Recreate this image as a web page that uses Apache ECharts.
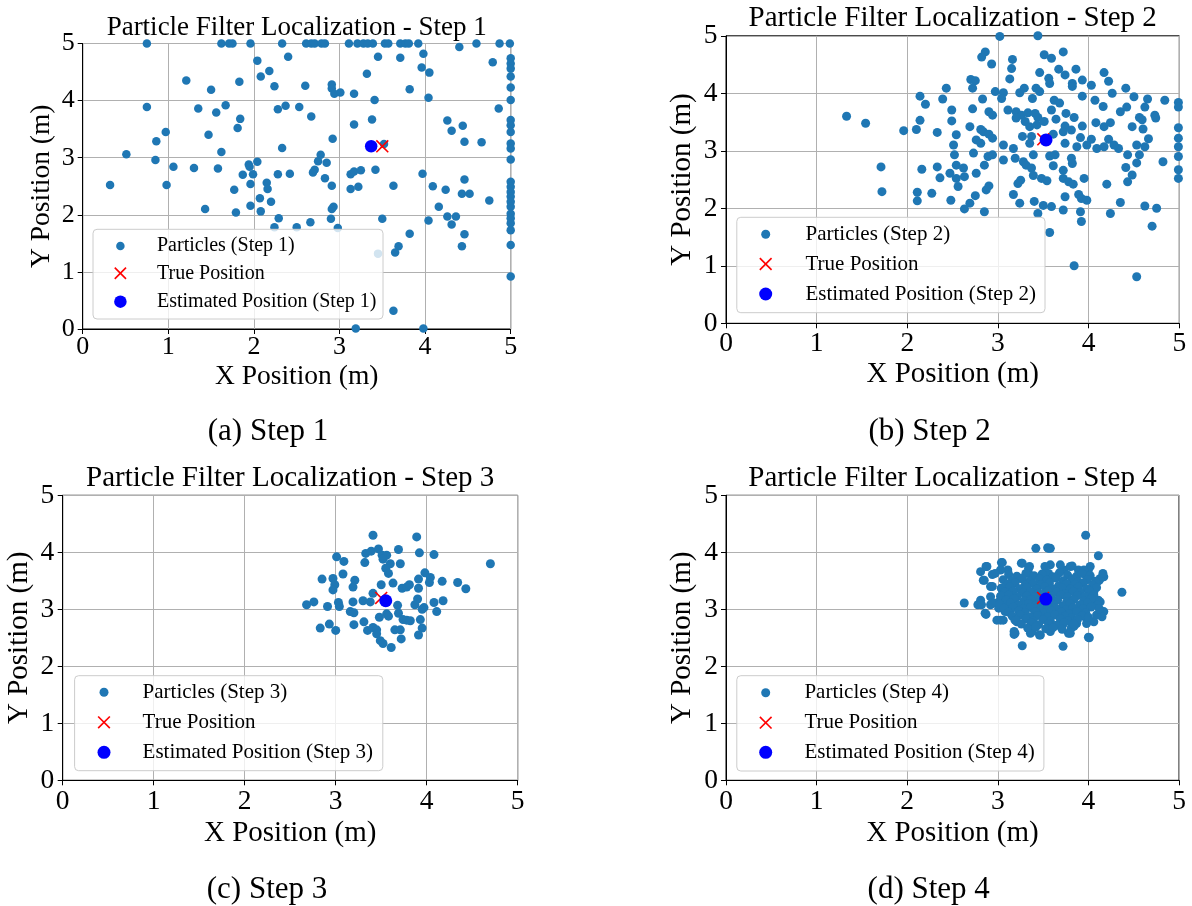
<!DOCTYPE html>
<html>
<head>
<meta charset="utf-8">
<title>Particle Filter Localization</title>
<script src="https://cdn.jsdelivr.net/npm/echarts@6/dist/echarts.min.js"></script>
<style>
  html, body { margin: 0; padding: 0; background: #fff; }
  #chart { width: 1192px; height: 906px; }
</style>
</head>
<body>
<div id="chart"></div>
<script>
const FONT = "'Liberation Serif', 'Times New Roman', 'DejaVu Serif', serif";

// data (metres)
const axisTicks = [0, 1, 2, 3, 4, 5];
const stepNames = ['1', '2', '3', '4'];
const captions = ['(a) Step 1', '(b) Step 2', '(c) Step 3', '(d) Step 4'];
const truePosition = [3.5, 3.2];
const estimated = [[3.37, 3.20], [3.53, 3.19], [3.55, 3.15], [3.53, 3.18]];

const particles1 = [
  // clipped to the top edge
  [0.75, 5], [1.62, 5], [1.71, 5], [1.75, 5], [1.96, 5], [2.33, 5], [2.61, 5], [2.67, 5], [2.71, 5],
  [2.79, 5], [2.83, 5], [3.11, 5], [3.21, 5], [3.28, 5], [3.33, 5], [3.39, 5], [3.53, 5], [3.57, 5],
  [3.71, 5], [3.77, 5], [3.81, 5], [3.92, 5], [4.40, 4.94], [4.60, 5], [4.87, 5], [4.99, 5],
  // clipped to the right edge
  [5, 4.74], [5, 4.65], [5, 4.56], [5, 4.42], [5, 4.23], [5, 4.01], [5, 3.66], [5, 3.57], [5, 3.45],
  [5, 3.25], [5, 3.16], [5, 2.97], [5, 2.58], [5, 2.49], [5, 2.40], [5, 2.32], [5, 2.23], [5, 2.14],
  [5, 2.02], [5, 1.94], [5, 1.85], [5, 1.73], [5, 1.47], [5, 0.92],
  // interior
  [3.98, 4.82], [4.79, 4.67], [2.04, 4.70], [2.40, 4.77], [3.45, 4.77], [3.71, 4.75], [3.96, 4.58],
  [4.05, 4.49], [3.32, 4.47], [2.18, 4.52], [2.08, 4.42], [1.21, 4.35], [1.83, 4.33], [2.24, 4.25],
  [2.60, 4.26], [2.91, 4.28], [2.91, 4.21], [2.94, 4.12], [3.01, 4.14], [3.17, 4.12], [3.82, 4.20],
  [1.50, 4.19], [3.41, 4.01], [4.04, 4.05], [0.75, 3.89], [1.35, 3.86], [1.67, 3.92], [1.56, 3.79],
  [2.28, 3.85], [2.37, 3.91], [2.53, 3.89], [2.67, 3.72], [1.84, 3.68], [1.81, 3.52], [3.38, 3.67],
  [3.17, 3.58], [4.86, 3.86], [4.26, 3.65], [4.44, 3.56], [4.31, 3.47], [4.46, 3.28], [4.66, 3.27],
  [0.97, 3.45], [0.86, 3.29], [1.47, 3.40], [2.92, 3.33], [2.33, 3.17], [0.51, 3.06], [1.62, 3.10],
  [0.85, 2.96], [1.06, 2.84], [1.30, 2.82], [1.58, 2.81], [1.94, 2.88], [2.04, 2.93], [1.95, 2.84],
  [1.87, 2.70], [1.99, 2.71], [2.28, 2.71], [2.42, 2.72], [2.78, 3.05], [2.75, 2.94], [2.85, 2.91],
  [2.71, 2.79], [2.69, 2.74], [2.83, 2.64], [3.13, 2.71], [3.17, 2.76], [3.25, 2.78], [3.42, 2.79],
  [3.97, 2.72], [4.46, 2.62], [0.32, 2.52], [0.98, 2.52], [1.96, 2.54], [2.15, 2.56], [2.16, 2.45],
  [1.77, 2.44], [2.91, 2.51], [3.13, 2.45], [3.22, 2.49], [3.63, 2.51], [4.09, 2.50], [4.24, 2.44],
  [4.43, 2.37], [4.52, 2.37], [4.75, 2.25], [2.07, 2.29], [2.20, 2.23], [1.96, 2.16], [1.43, 2.10],
  [1.79, 2.04], [2.08, 2.06], [2.91, 2.10], [2.93, 2.14], [4.16, 2.14], [2.29, 1.94], [2.66, 1.87],
  [2.90, 1.93], [3.50, 1.93], [4.04, 1.90], [4.26, 1.97], [4.36, 1.97], [4.31, 1.83], [2.24, 1.78],
  [2.50, 1.78], [2.98, 1.77], [3.82, 1.67], [4.46, 1.66], [3.69, 1.45], [3.65, 1.34], [4.43, 1.45],
  [3.45, 1.32], [3.63, 0.32], [3.19, 0.01], [3.98, 0.01], [3.52, 3.24]
];

const particles2 = [
  [1.33, 3.60], [1.54, 3.48], [1.71, 2.72], [1.72, 2.29], [1.96, 3.35], [2.10, 3.37], [2.14, 3.53],
  [2.14, 3.95], [2.20, 3.81], [2.33, 3.32], [2.43, 4.09], [2.39, 3.90], [2.16, 2.68], [2.33, 2.72],
  [2.36, 2.53], [2.47, 2.61], [2.11, 2.28], [2.11, 2.13], [2.27, 2.26],
  [3.02, 4.99], [3.44, 5.00], [2.86, 4.72], [2.82, 4.63], [2.93, 4.51], [3.16, 4.59], [3.15, 4.43],
  [3.51, 4.67], [3.59, 4.61], [3.72, 4.72], [3.13, 4.25], [3.46, 4.36], [3.56, 4.26], [3.57, 4.17],
  [3.67, 4.42], [3.74, 4.32], [3.86, 4.42], [3.82, 4.17], [3.82, 4.12], [3.93, 4.23], [4.03, 4.14],
  [4.17, 4.36], [4.22, 4.21], [4.41, 4.09], [2.70, 4.24], [2.75, 4.22], [2.72, 4.09], [2.97, 4.03],
  [3.06, 4.01], [3.04, 3.91], [2.83, 3.90], [3.24, 4.01], [3.29, 4.09], [3.42, 4.09], [3.46, 4.03],
  [3.38, 3.91], [3.62, 3.88], [3.68, 3.83], [3.93, 3.95], [4.07, 3.88], [4.16, 3.77], [4.26, 4.00],
  [4.50, 3.94], [4.65, 3.90], [4.84, 3.88], [4.99, 3.84], [4.62, 3.76], [4.73, 3.62], [4.74, 3.57],
  [4.99, 3.76], [2.49, 3.71], [2.72, 3.73], [2.90, 3.68], [2.94, 3.62], [3.11, 3.71], [3.20, 3.68],
  [3.26, 3.62], [3.33, 3.66], [3.41, 3.65], [3.44, 3.58], [3.59, 3.71], [3.64, 3.55], [3.75, 3.65],
  [3.84, 3.58], [4.35, 3.68], [4.42, 3.76], [4.56, 3.58], [4.59, 3.54], [2.49, 3.52], [2.69, 3.42],
  [2.81, 3.37], [2.84, 3.33], [2.90, 3.29], [2.94, 3.22], [2.76, 3.19], [2.81, 3.13], [2.54, 3.28],
  [3.20, 3.57], [3.30, 3.51], [3.35, 3.42], [3.43, 3.45], [3.51, 3.51], [3.74, 3.43], [3.93, 3.43],
  [4.08, 3.49], [4.17, 3.42], [4.24, 3.49], [4.48, 3.42], [4.60, 3.38], [4.99, 3.40], [3.27, 3.25],
  [3.37, 3.25], [3.61, 3.29], [3.72, 3.33], [3.81, 3.36], [3.91, 3.23], [4.03, 3.20], [4.22, 3.20],
  [4.33, 3.04], [4.66, 3.21], [4.99, 3.22], [2.51, 3.10], [3.06, 3.10], [3.17, 3.04], [3.35, 3.13],
  [3.74, 3.13], [3.87, 3.07], [3.98, 3.10], [4.09, 3.04], [4.17, 3.07], [4.28, 3.10], [4.62, 3.07],
  [4.53, 3.10], [4.99, 3.07], [2.52, 2.93], [2.73, 2.96], [2.89, 2.90], [2.94, 2.93], [3.06, 2.84],
  [3.19, 2.87], [3.28, 2.81], [3.39, 2.93], [3.57, 2.91], [3.63, 2.93], [3.81, 2.87], [3.82, 2.78],
  [4.43, 2.93], [4.56, 2.93], [4.53, 2.79], [4.82, 2.81], [4.99, 2.90], [2.54, 2.75], [2.62, 2.70],
  [2.85, 2.75], [3.31, 2.75], [3.37, 2.70], [3.61, 2.74], [3.72, 2.66], [4.41, 2.71], [4.48, 2.58],
  [4.99, 2.67], [2.63, 2.55], [2.54, 2.52], [2.76, 2.61], [3.39, 2.57], [3.48, 2.52], [3.25, 2.49],
  [3.54, 2.48], [3.72, 2.52], [3.78, 2.46], [3.83, 2.42], [3.95, 2.52], [4.20, 2.42], [4.43, 2.46],
  [4.99, 2.52], [2.56, 2.38], [2.90, 2.39], [3.22, 2.43], [2.87, 2.32], [2.75, 2.22], [3.17, 2.24],
  [3.74, 2.20], [3.89, 2.24], [3.92, 2.17], [3.98, 2.14], [2.48, 2.14], [2.69, 2.09], [3.24, 2.09],
  [3.40, 2.12], [3.50, 2.05], [3.59, 2.03], [3.72, 1.97], [2.63, 1.99], [4.35, 2.10], [4.62, 2.04],
  [4.75, 2.00], [2.85, 1.94], [3.44, 1.91], [3.91, 1.94], [4.24, 1.91], [3.92, 1.77], [4.70, 1.69],
  [3.57, 1.58], [3.84, 1.00], [4.53, 0.81]
];

const particles3 = [
  [3.41, 4.30], [3.89, 4.27], [3.01, 3.92], [3.09, 3.84], [3.33, 3.98], [3.39, 4.02], [3.47, 4.06],
  [3.51, 3.95], [3.56, 3.95], [3.52, 3.88], [3.69, 4.05], [3.92, 3.99], [4.08, 3.96], [3.32, 3.82],
  [3.60, 3.80], [3.71, 3.80], [3.55, 3.72], [3.58, 3.63], [3.98, 3.64], [4.04, 3.56], [4.03, 3.47],
  [4.70, 3.80], [2.85, 3.53], [2.97, 3.54], [2.99, 3.43], [2.97, 3.34], [3.08, 3.62], [3.21, 3.51],
  [3.19, 3.39], [3.50, 3.43], [3.63, 3.46], [3.73, 3.37], [3.78, 3.39], [3.81, 3.43], [3.91, 3.53],
  [3.91, 3.37], [4.17, 3.49], [4.34, 3.47], [4.43, 3.36], [3.41, 3.28], [2.68, 3.08], [2.76, 3.13],
  [2.91, 3.05], [3.03, 3.12], [3.04, 3.05], [3.19, 3.13], [3.30, 3.15], [3.38, 3.13], [3.68, 3.07],
  [3.90, 3.18], [3.87, 3.08], [3.97, 3.03], [4.08, 3.12], [4.18, 3.15], [3.16, 2.96], [3.20, 2.94],
  [3.48, 2.86], [3.56, 2.92], [3.58, 2.88], [3.69, 2.93], [3.74, 2.82], [3.78, 2.81], [3.82, 2.80],
  [3.93, 2.82], [3.95, 3.00], [4.11, 2.96], [2.83, 2.67], [2.93, 2.74], [3.00, 2.63], [3.20, 2.73],
  [3.31, 2.78], [3.35, 2.63], [3.41, 2.68], [3.45, 2.64], [3.45, 2.57], [3.65, 2.64], [3.71, 2.64],
  [3.95, 2.67], [3.91, 2.55], [3.49, 2.45], [3.52, 2.40], [3.61, 2.33], [3.72, 2.48]
];

const particles4 = [
  // stragglers
  [3.97, 4.30], [3.42, 4.07], [3.55, 4.08], [3.58, 4.07], [4.11, 3.94], [4.37, 3.30], [2.63, 3.11],
  [3.27, 2.36], [3.72, 2.35], [4.01, 2.50], [3.18, 2.56], [2.87, 2.91],
  // rim of the cloud
  [2.81, 3.66], [2.87, 3.75], [2.84, 3.51], [2.94, 3.61], [3.04, 3.82], [3.11, 3.69], [3.03, 3.69],
  [3.26, 3.81], [3.35, 3.75], [2.92, 3.40], [3.04, 3.37], [2.81, 3.16], [2.78, 3.08], [2.92, 3.22],
  [2.92, 3.08], [3.01, 3.13], [3.03, 2.81], [3.06, 2.81], [3.21, 2.78], [3.19, 2.58], [3.38, 2.61],
  [3.46, 2.55], [3.58, 2.64], [3.78, 2.58], [3.81, 2.67], [3.87, 2.75], [3.96, 2.87], [4.06, 2.78],
  [4.17, 2.96], [4.15, 2.87], [4.09, 3.13], [4.13, 3.13], [4.06, 3.31], [4.09, 3.46], [4.17, 3.57],
  [4.12, 3.51], [4.00, 3.69], [3.98, 3.57], [3.89, 3.69], [3.82, 3.76], [3.73, 3.69], [3.58, 3.78],
  [3.52, 3.75], [3.56, 3.63], [3.34, 3.63], [3.25, 3.54], [3.15, 3.44], [3.10, 3.31], [3.10, 3.11],
  [3.14, 2.99], [3.08, 2.96], [3.56, 4.07], [2.88, 3.75], [2.97, 3.63], [3.05, 3.82], [2.85, 3.51],
  [2.94, 3.40], [2.82, 3.08], [2.95, 3.11], [2.86, 2.93], [3.01, 3.02], [2.99, 2.81], [3.19, 2.81],
  [3.18, 2.61], [3.36, 2.58], [3.47, 2.55], [3.58, 2.61], [3.80, 2.58], [3.84, 2.70], [3.98, 2.75],
  [4.00, 2.51], [4.09, 2.90], [4.11, 3.16], [4.07, 3.37], [4.13, 3.54], [4.16, 3.63], [4.02, 3.75],
  [3.95, 3.69], [3.80, 3.75], [3.69, 3.78], [3.54, 3.63], [3.27, 3.81], [3.34, 3.72],
  // dense core
  [3.12, 3.61], [3.21, 3.58], [3.31, 3.63], [3.40, 3.59], [3.49, 3.62], [3.61, 3.57], [3.68, 3.64],
  [3.77, 3.60], [3.87, 3.58], [3.93, 3.63], [4.02, 3.59], [3.06, 3.52], [3.16, 3.50], [3.27, 3.54],
  [3.35, 3.49], [3.46, 3.53], [3.54, 3.51], [3.64, 3.55], [3.72, 3.50], [3.82, 3.53], [3.89, 3.48],
  [3.99, 3.52], [4.08, 3.49], [3.11, 3.44], [3.19, 3.46], [3.30, 3.42], [3.39, 3.45], [3.48, 3.43],
  [3.57, 3.46], [3.67, 3.41], [3.76, 3.45], [3.85, 3.43], [3.94, 3.46], [4.05, 3.42], [3.04, 3.37],
  [3.13, 3.39], [3.24, 3.36], [3.32, 3.38], [3.43, 3.35], [3.52, 3.39], [3.60, 3.36], [3.71, 3.38],
  [3.80, 3.35], [3.89, 3.39], [3.98, 3.36], [4.09, 3.38], [3.08, 3.30], [3.17, 3.32], [3.28, 3.29],
  [3.36, 3.31], [3.45, 3.28], [3.55, 3.32], [3.65, 3.30], [3.74, 3.27], [3.83, 3.31], [3.91, 3.29],
  [4.01, 3.32], [3.03, 3.23], [3.12, 3.25], [3.21, 3.22], [3.32, 3.24], [3.40, 3.21], [3.50, 3.26],
  [3.59, 3.23], [3.70, 3.25], [3.77, 3.21], [3.88, 3.24], [3.96, 3.22], [4.06, 3.25], [3.09, 3.16],
  [3.18, 3.18], [3.29, 3.15], [3.37, 3.17], [3.47, 3.14], [3.58, 3.18], [3.66, 3.16], [3.76, 3.13],
  [3.84, 3.17], [3.95, 3.15], [4.03, 3.18], [3.02, 3.09], [3.14, 3.11], [3.23, 3.08], [3.34, 3.10],
  [3.42, 3.07], [3.53, 3.11], [3.61, 3.09], [3.72, 3.06], [3.80, 3.10], [3.91, 3.08], [3.99, 3.11],
  [4.10, 3.07], [3.07, 3.02], [3.17, 3.04], [3.28, 3.01], [3.36, 3.03], [3.47, 3.00], [3.55, 3.04],
  [3.64, 3.02], [3.75, 2.99], [3.83, 3.03], [3.94, 3.01], [4.03, 3.04], [4.12, 3.01], [3.12, 2.95],
  [3.23, 2.97], [3.30, 2.94], [3.41, 2.96], [3.51, 2.93], [3.59, 2.97], [3.70, 2.95], [3.79, 2.92],
  [3.87, 2.96], [3.97, 2.94], [3.16, 2.88], [3.25, 2.90], [3.36, 2.87], [3.44, 2.89], [3.55, 2.86],
  [3.63, 2.90], [3.74, 2.88], [3.82, 2.85], [3.93, 2.89], [4.00, 2.86], [3.20, 2.81], [3.31, 2.83],
  [3.39, 2.80], [3.50, 2.82], [3.58, 2.79], [3.69, 2.83], [3.77, 2.80], [3.88, 2.82], [3.26, 2.74],
  [3.37, 2.76], [3.45, 2.73], [3.56, 2.75], [3.65, 2.72], [3.73, 2.76], [3.84, 2.74], [3.33, 2.67],
  [3.42, 2.69], [3.53, 2.66], [3.61, 2.68], [3.71, 2.65]
];

const particles = [particles1, particles2, particles3, particles4];

const panels = [
  { grid: { left: 82.7, top: 43.5, width: 428, height: 285.5 }, titleX: 296.7, titleY: 14.5, titleSize: 27,
    captionX: 268, captionY: 416, tickSize: 26, nameSize: 27.5, xMargin: 5, yMargin: 8, xGap: 34, yGap: 26.5,
    dot: 8.5, big: 12.5, legend: { x: 93, y: 229.3, w: 290, h: 89.7, rows: [246, 273.3, 301.7], mx: 120.4, tx: 157, size: 20 } },
  { grid: { left: 726, top: 35.8, width: 453.3, height: 287.5 }, titleX: 952.7, titleY: 3.8, titleSize: 29,
    captionX: 929.6, captionY: 416, tickSize: 27.5, nameSize: 29, xMargin: 6.5, yMargin: 8.5, xGap: 37, yGap: 29.5,
    dot: 9, big: 13, legend: { x: 736.8, y: 217.3, w: 308.2, h: 95.4, rows: [234.3, 264, 294], mx: 765.7, tx: 805.5, size: 21 } },
  { grid: { left: 62.7, top: 495.3, width: 455, height: 285 }, titleX: 290.2, titleY: 463.8, titleSize: 29,
    captionX: 267, captionY: 874.5, tickSize: 27.5, nameSize: 29, xMargin: 7.5, yMargin: 8.5, xGap: 38.5, yGap: 28.5,
    dot: 9, big: 13, legend: { x: 74.6, y: 675.7, w: 308.2, h: 95, rows: [692.3, 722.3, 752.3], mx: 104, tx: 142.6, size: 21 } },
  { grid: { left: 726, top: 495.3, width: 453, height: 285 }, titleX: 952.5, titleY: 463.8, titleSize: 29,
    captionX: 928.7, captionY: 874.5, tickSize: 27.5, nameSize: 29, xMargin: 7.5, yMargin: 8, xGap: 38.5, yGap: 29.5,
    dot: 9, big: 13, legend: { x: 736.8, y: 675.7, w: 307.1, h: 95.3, rows: [692.7, 722.7, 752.3], mx: 765.7, tx: 804.4, size: 21 } }
];

// matplotlib style 'x' marker as a thin filled cross
const X_MARK = 'path://M0,0.85L0.85,0L5,4.15L9.15,0L10,0.85L5.85,5L10,9.15L9.15,10L5,5.85L0.85,10L0,9.15L4.15,5Z';

function makeAxis (p, i, dim) {
    const isX = dim === 'x';
    return {
        type: 'value',
        gridIndex: i,
        min: axisTicks[0],
        max: axisTicks[axisTicks.length - 1],
        interval: 1,
        name: isX ? 'X Position (m)' : 'Y Position (m)',
        nameLocation: 'middle',
        nameGap: isX ? p.xGap : p.yGap,
        nameTextStyle: { fontFamily: FONT, fontSize: p.nameSize, color: '#000' },
        axisLine: { show: true, onZero: false, lineStyle: { color: '#000', width: 1 } },
        axisTick: { show: true, inside: false, length: 5, lineStyle: { color: '#000', width: 1 } },
        axisLabel: {
            fontFamily: FONT, fontSize: p.tickSize, color: '#000',
            margin: isX ? p.xMargin : p.yMargin, showMinLabel: true, showMaxLabel: true
        },
        splitLine: { show: true, lineStyle: { color: '#b0b0b0', width: 1 } }
    };
}

function makeLegend (p, step) {
    const L = p.legend;
    const text = (label, row) => ({
        type: 'text', x: L.tx, y: L.rows[row], z: 101,
        style: { text: label, fontFamily: FONT, fontSize: L.size, fill: '#000', verticalAlign: 'middle', align: 'left' }
    });
    const half = p.big / 2 * 0.9;
    const xr = L.rows[1];
    return [
        { type: 'rect', z: 100, shape: { x: L.x, y: L.y, width: L.w, height: L.h, r: 4 },
          style: { fill: 'rgba(255,255,255,0.8)', stroke: '#cccccc', lineWidth: 1 } },
        { type: 'circle', z: 101, shape: { cx: L.mx, cy: L.rows[0], r: p.dot / 2 }, style: { fill: '#1f77b4' } },
        { type: 'line', z: 101, shape: { x1: L.mx - half, y1: xr - half, x2: L.mx + half, y2: xr + half }, style: { stroke: '#ff0000', lineWidth: 1.6 } },
        { type: 'line', z: 101, shape: { x1: L.mx - half, y1: xr + half, x2: L.mx + half, y2: xr - half }, style: { stroke: '#ff0000', lineWidth: 1.6 } },
        { type: 'circle', z: 101, shape: { cx: L.mx, cy: L.rows[2], r: p.big / 2 }, style: { fill: '#0000ff' } },
        text('Particles (Step ' + step + ')', 0),
        text('True Position', 1),
        text('Estimated Position (Step ' + step + ')', 2)
    ];
}

const grids = [], xAxes = [], yAxes = [], series = [], titles = [];
let graphics = [];

panels.forEach((p, i) => {
    const step = stepNames[i];
    grids.push(Object.assign({ show: true, borderColor: '#000', borderWidth: 1, backgroundColor: 'transparent' }, p.grid));
    xAxes.push(makeAxis(p, i, 'x'));
    yAxes.push(makeAxis(p, i, 'y'));
    series.push({
        name: 'Particles (Step ' + step + ')', type: 'scatter', xAxisIndex: i, yAxisIndex: i,
        data: particles[i], symbol: 'circle', symbolSize: p.dot, itemStyle: { color: '#1f77b4', opacity: 1 }, z: 2
    });
    series.push({
        name: 'True Position', type: 'scatter', xAxisIndex: i, yAxisIndex: i,
        data: [truePosition], symbol: X_MARK, symbolSize: 13, itemStyle: { color: '#ff0000', opacity: 1 }, z: 3
    });
    series.push({
        name: 'Estimated Position (Step ' + step + ')', type: 'scatter', xAxisIndex: i, yAxisIndex: i,
        data: [estimated[i]], symbol: 'circle', symbolSize: p.big, itemStyle: { color: '#0000ff', opacity: 1 }, z: 4
    });
    titles.push({
        text: 'Particle Filter Localization - Step ' + step,
        left: p.titleX, top: p.titleY, textAlign: 'center', padding: 0,
        textStyle: { fontFamily: FONT, fontSize: p.titleSize, fontWeight: 'normal', color: '#000' }
    });
    titles.push({
        text: captions[i],
        left: p.captionX, top: p.captionY, textAlign: 'center', padding: 0,
        textStyle: { fontFamily: FONT, fontSize: 31, fontWeight: 'normal', color: '#000' }
    });
    graphics = graphics.concat(makeLegend(p, step));
});

const chart = echarts.init(document.getElementById('chart'), null, { renderer: 'canvas' });
chart.setOption({
    animation: false,
    backgroundColor: '#ffffff',
    title: titles,
    grid: grids,
    xAxis: xAxes,
    yAxis: yAxes,
    series: series,
    graphic: { elements: graphics }
});
</script>
</body>
</html>
